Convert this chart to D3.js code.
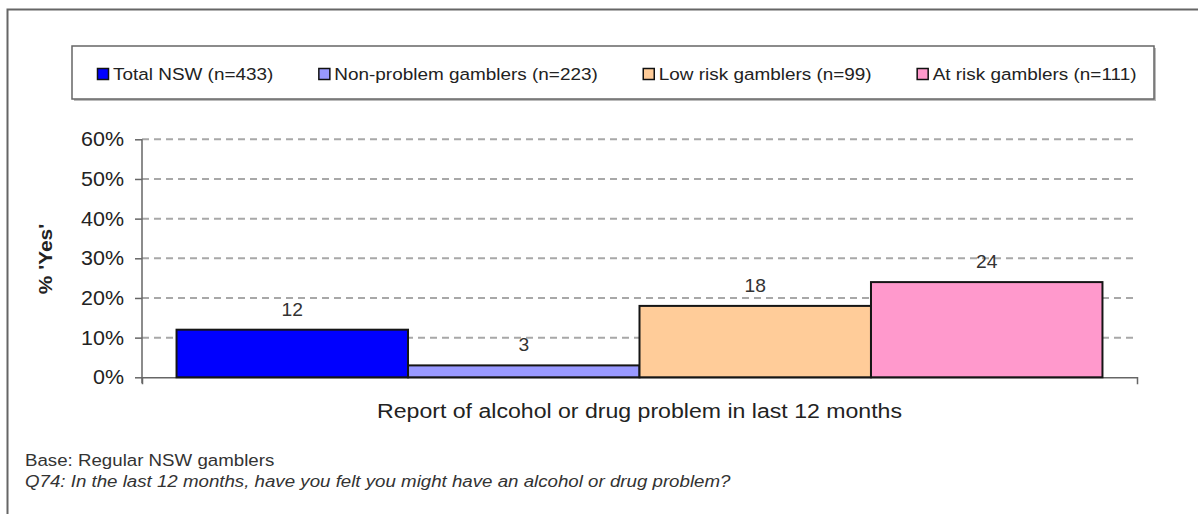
<!DOCTYPE html>
<html>
<head>
<meta charset="utf-8">
<script src="https://cdn.jsdelivr.net/npm/d3@7"></script>
<style>
  html, body { margin: 0; padding: 0; background: #fff; }
  svg { display: block; font-family: "Liberation Sans", Arial, sans-serif; }
</style>
</head>
<body>
<svg id="chart" width="1198" height="514"></svg>
<script>
// Survey groups and share answering "Yes"
const categories = ["Report of alcohol or drug problem in last 12 months"];
const seriesNames = [
  "Total NSW (n=433)",
  "Non-problem gamblers (n=223)",
  "Low risk gamblers (n=99)",
  "At risk gamblers (n=111)"
];
const seriesValues = [12, 3, 18, 24];
const seriesColors = ["#0000FF", "#9999FF", "#FFCC99", "#FF99CC"];
const yTicks = [0, 10, 20, 30, 40, 50, 60];
const yTickLabels = ["0%", "10%", "20%", "30%", "40%", "50%", "60%"];
const yTitle = "% 'Yes'";
const baseNote = "Base: Regular NSW gamblers";
const questionNote = "Q74: In the last 12 months, have you felt you might have an alcohol or drug problem?";

const svg = d3.select("#chart");
const SX = 1.1; // horizontal stretch of the typeface

// Text helper: places text at (x, y) with the wide face
function label(parent, x, y, txt, opts = {}) {
  const t = parent.append("text")
    .attr("transform", `translate(${x},${y}) scale(${SX},1)`)
    .attr("font-size", opts.size || 16)
    .attr("fill", opts.color || "#222")
    .attr("text-anchor", opts.anchor || "start")
    .text(txt);
  if (opts.weight) t.attr("font-weight", opts.weight);
  if (opts.italic) t.attr("font-style", "italic");
  return t;
}

// Outer frame (top and left edges)
svg.append("path")
  .attr("d", "M7.5,514 L7.5,9.5 L1198,9.5")
  .attr("fill", "none")
  .attr("stroke", "#666")
  .attr("stroke-width", 2);

// Legend box with a soft drop shadow
const lg = { x: 72, y: 46, w: 1082, h: 53 };
svg.append("rect")
  .attr("x", lg.x + 2).attr("y", lg.y + 2)
  .attr("width", lg.w).attr("height", lg.h)
  .attr("fill", "#bbb");
svg.append("rect")
  .attr("x", lg.x).attr("y", lg.y)
  .attr("width", lg.w).attr("height", lg.h)
  .attr("fill", "#fff")
  .attr("stroke", "#666")
  .attr("stroke-width", 1.5);

let lx = 97;
seriesNames.forEach((name, i) => {
  svg.append("rect")
    .attr("x", lx + 0.5).attr("y", 68.5)
    .attr("width", 11).attr("height", 11)
    .attr("fill", seriesColors[i])
    .attr("stroke", "#111")
    .attr("stroke-width", 1.5);
  const t = label(svg, lx + 16, 80, name, { size: 17.2, color: "#222" });
  const w = t.node().getComputedTextLength() * SX;
  lx = lx + 16 + w + 45;
});

// Plot geometry
const plot = { left: 142, right: 1137, top: 139.3, bottom: 377.3 };

const y = d3.scaleLinear()
  .domain([0, 60])
  .range([plot.bottom, plot.top]);

const x0 = d3.scaleBand()
  .domain(categories)
  .range([plot.left, plot.right])
  .paddingInner(0)
  .paddingOuter(0.0373);

const x1 = d3.scaleBand()
  .domain(seriesNames)
  .range([0, x0.bandwidth()])
  .padding(0);

// Dashed gridlines
svg.append("g")
  .selectAll("line")
  .data(yTicks.filter(d => d > 0))
  .join("line")
  .attr("x1", plot.left).attr("x2", plot.right)
  .attr("y1", d => y(d)).attr("y2", d => y(d))
  .attr("stroke", "#a8a8a8")
  .attr("stroke-width", 2)
  .attr("stroke-dasharray", "7,5");

// Y axis
const yAxis = d3.axisLeft(y)
  .tickValues(yTicks)
  .tickFormat(() => "")
  .tickSize(7)
  .tickSizeOuter(0);
const yg = svg.append("g")
  .attr("transform", `translate(${plot.left},0)`)
  .call(yAxis);
yg.select(".domain").attr("stroke", "#666").attr("stroke-width", 1.5)
  .attr("d", `M0,${plot.top}V${plot.bottom + 6}`);
yg.selectAll(".tick line").attr("stroke", "#666").attr("stroke-width", 1.5);

yTicks.forEach((v, i) => {
  label(svg, 124, y(v) + 7, yTickLabels[i], { size: 19.5, anchor: "end", color: "#222" });
});

// X axis baseline with end ticks
const xg = svg.append("g")
  .attr("transform", `translate(0,${plot.bottom})`)
  .call(d3.axisBottom(x0).tickFormat("").tickSize(0).tickSizeOuter(7));
xg.select(".domain").attr("stroke", "#666").attr("stroke-width", 1.5);
xg.selectAll(".tick").remove();

// Bars
const barG = svg.append("g")
  .attr("transform", `translate(${x0(categories[0])},0)`);
barG.selectAll("rect")
  .data(seriesValues)
  .join("rect")
  .attr("x", (d, i) => x1(seriesNames[i]))
  .attr("y", d => y(d))
  .attr("width", x1.bandwidth())
  .attr("height", d => plot.bottom - y(d))
  .attr("fill", (d, i) => seriesColors[i])
  .attr("stroke", "#151515")
  .attr("stroke-width", 2);

// Value labels above bars
seriesValues.forEach((v, i) => {
  const cx = x0(categories[0]) + x1(seriesNames[i]) + x1.bandwidth() / 2;
  label(svg, cx, y(v) - 14, String(v), { size: 17.5, anchor: "middle", color: "#333" });
});

// Axis titles
label(svg, (plot.left + plot.right) / 2, 418, categories[0], { size: 21, anchor: "middle", color: "#222" });

svg.append("text")
  .attr("transform", `translate(52,259) rotate(-90) scale(${SX},1)`)
  .attr("font-size", 19)
  .attr("font-weight", "bold")
  .attr("fill", "#222")
  .attr("text-anchor", "middle")
  .text(yTitle);

// Footnotes
label(svg, 25, 466, baseNote, { size: 17, color: "#333" });
label(svg, 25, 487, questionNote, { size: 17, color: "#333", italic: true });
</script>
</body>
</html>
